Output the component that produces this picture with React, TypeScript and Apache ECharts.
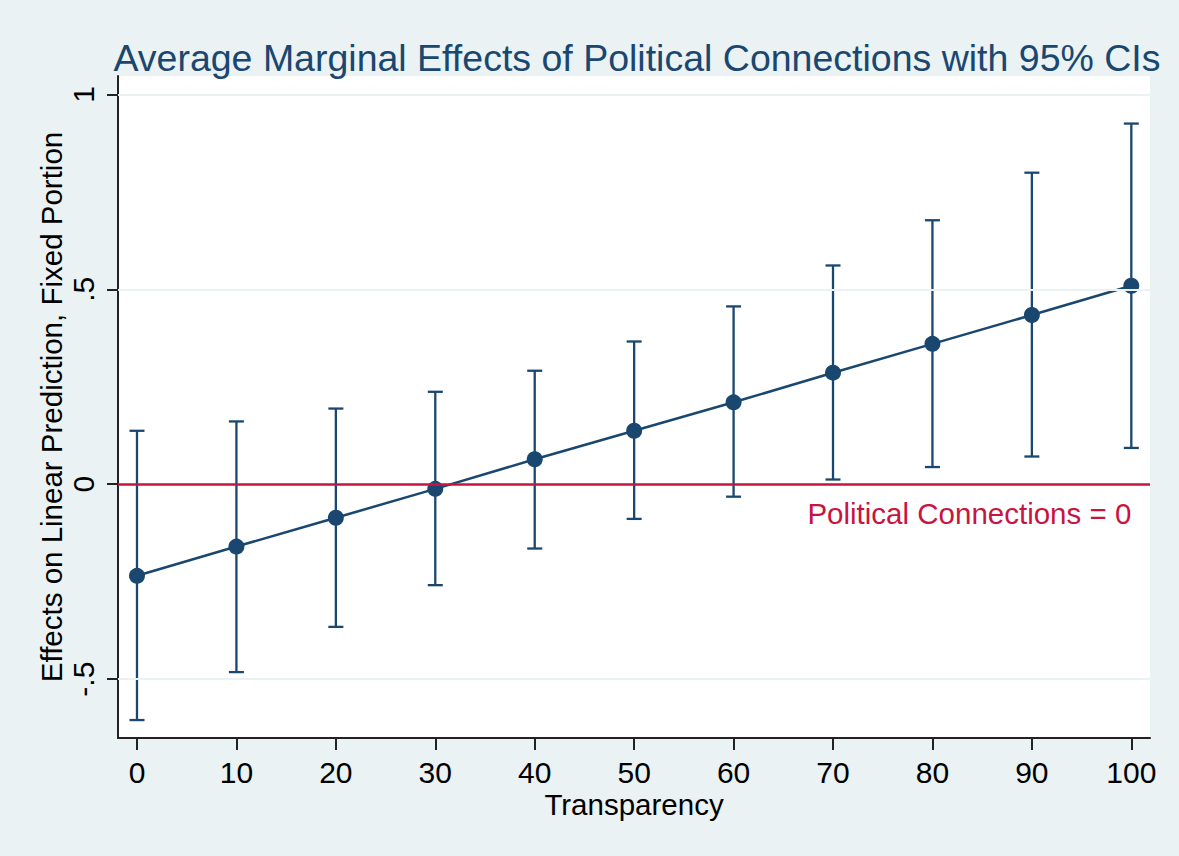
import React, { useEffect, useRef } from "react";
import * as echarts from "echarts";

const transparency = [0, 10, 20, 30, 40, 50, 60, 70, 80, 90, 100];
const effect = [-0.235, -0.16, -0.086, -0.012, 0.064, 0.137, 0.21, 0.286, 0.36, 0.434, 0.509];
const ciLower = [-0.605, -0.482, -0.366, -0.259, -0.165, -0.089, -0.032, 0.012, 0.044, 0.071, 0.093];
const ciUpper = [0.137, 0.161, 0.194, 0.237, 0.291, 0.366, 0.456, 0.561, 0.677, 0.799, 0.925];
const xTicks = [0, 10, 20, 30, 40, 50, 60, 70, 80, 90, 100];
const yTicks = [-0.5, 0, 0.5, 1];
const gridYs = [-0.5, 0.5, 1];
const refValue = 0;

const NAVY = "#1a476f";
const RED = "#c8153f";
const BG = "#eaf2f3";
const FONT = "'Liberation Sans', Arial, sans-serif";

export default function App() {
  const ref = useRef<HTMLDivElement>(null);
  useEffect(() => {
    if (!ref.current) return;
    const chart = echarts.init(ref.current, undefined, { renderer: "svg" });
    const fmtY = (v: number) => {
      if (v === 0) return "0";
      const s = String(v);
      return s.replace(/^(-?)0\./, "$1.");
    };
    const option: any = {
      animation: false,
      backgroundColor: BG,
      textStyle: { fontFamily: FONT },
      title: {
        text: "Average Marginal Effects of Political Connections with 95% CIs",
        left: 632,
        textAlign: "center",
        top: 34,
        textStyle: { color: NAVY, fontSize: 37.5, fontWeight: "normal", fontFamily: FONT },
      },
      grid: {
        left: 118,
        right: 1179 - 1150,
        top: 76,
        bottom: 856 - 738,
        show: true,
        backgroundColor: "#ffffff",
        borderWidth: 0,
      },
      xAxis: {
        type: "value",
        min: -1.91,
        max: 101.88,
        name: "Transparency",
        nameLocation: "middle",
        nameGap: 51,
        nameMoveOverlap: false,
        nameTextStyle: { color: "#000", fontSize: 29.5, fontFamily: FONT },
        axisLine: { show: true, onZero: false, lineStyle: { color: "#222", width: 2 } },
        axisTick: { show: true, length: 12, customValues: xTicks, lineStyle: { color: "#222", width: 2 } },
        axisLabel: { customValues: xTicks, color: "#000", fontSize: 30, margin: 19, fontFamily: FONT },
        splitLine: { show: false },
      },
      yAxis: {
        type: "value",
        min: -0.651,
        max: 1.047,
        name: "Effects on Linear Prediction, Fixed Portion",
        nameLocation: "middle",
        nameGap: 52,
        nameMoveOverlap: false,
        nameTextStyle: { color: "#000", fontSize: 29.5, fontFamily: FONT },
        axisLine: { show: true, onZero: false, lineStyle: { color: "#222", width: 2 } },
        axisTick: { show: true, length: 11, customValues: yTicks, lineStyle: { color: "#222", width: 2 } },
        axisLabel: {
          customValues: yTicks,
          rotate: 90,
          color: "#000",
          fontSize: 30,
          margin: 20,
          fontFamily: FONT,
          formatter: (v: number) => fmtY(v),
        },
        splitLine: { show: false },
      },
      series: [
        {
          type: "line",
          name: "grid",
          data: [],
          z: 0,
          silent: true,
          markLine: {
            silent: true,
            symbol: "none",
            label: { show: false },
            lineStyle: { color: BG, width: 2, type: "solid" },
            data: gridYs.map((y) => ({ yAxis: y })),
          },
        },
        {
          type: "line",
          name: "ref",
          data: [],
          z: 1,
          silent: true,
          markLine: {
            silent: true,
            symbol: "none",
            label: { show: false },
            lineStyle: { color: RED, width: 2.5, type: "solid" },
            data: [{ yAxis: refValue }],
          },
          markPoint: {
            symbol: "circle",
            symbolSize: 0,
            data: [{ coord: [100, refValue] }],
            label: {
              show: true,
              position: "left",
              distance: 0,
              offset: [0, 29],
              formatter: "Political Connections = 0",
              color: RED,
              fontSize: 29.5,
              fontFamily: FONT,
            },
          },
        },
        {
          type: "custom",
          name: "ci",
          z: 2,
          data: transparency.map((x, i) => [x, ciLower[i], ciUpper[i]]),
          renderItem: (params: any, api: any) => {
            const x = api.value(0);
            const lo = api.coord([x, api.value(1)]);
            const hi = api.coord([x, api.value(2)]);
            const hw = 7.5;
            const style = { stroke: NAVY, lineWidth: 2.3, fill: "none" };
            return {
              type: "group",
              children: [
                { type: "line", shape: { x1: lo[0], y1: lo[1], x2: hi[0], y2: hi[1] }, style },
                { type: "line", shape: { x1: lo[0] - hw, y1: lo[1], x2: lo[0] + hw, y2: lo[1] }, style },
                { type: "line", shape: { x1: hi[0] - hw, y1: hi[1], x2: hi[0] + hw, y2: hi[1] }, style },
              ],
            };
          },
        },
        {
          type: "line",
          name: "effect",
          z: 3,
          data: transparency.map((x, i) => [x, effect[i]]),
          symbol: "circle",
          symbolSize: 16,
          showSymbol: true,
          itemStyle: { color: NAVY },
          lineStyle: { color: NAVY, width: 2.5 },
        },
      ],
    };
    chart.setOption(option);
    return () => chart.dispose();
  }, []);
  return (
    <div
      ref={ref}
      style={{ position: "absolute", left: 0, top: 0, width: 1179, height: 856 }}
    />
  );
}
